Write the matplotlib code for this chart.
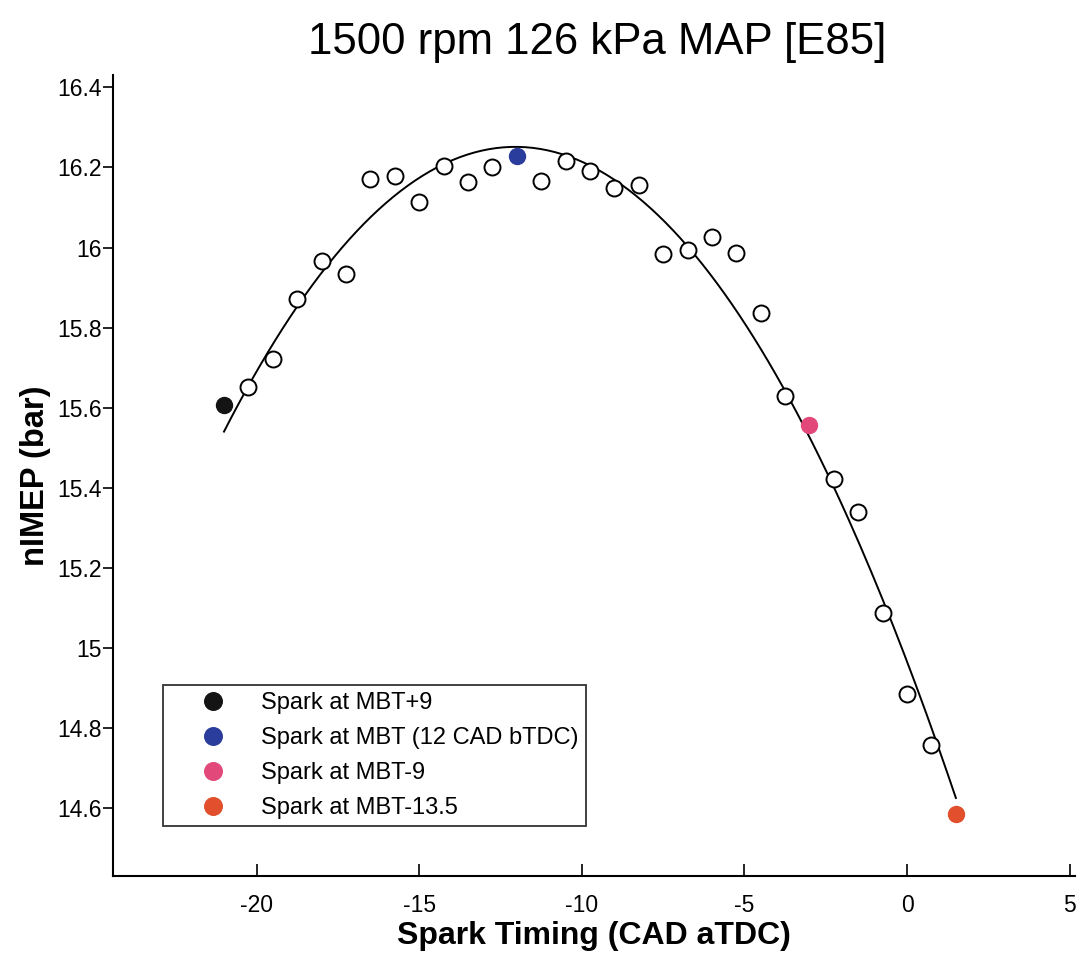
import matplotlib.pyplot as plt
import numpy as np

plt.rcParams['font.family'] = ['Liberation Sans', 'DejaVu Sans']

# spark timing (CAD aTDC) and net IMEP (bar), open circles
timing = [-20.25, -19.5, -18.75, -18.0, -17.25, -16.5, -15.75, -15.0, -14.25,
          -13.5, -12.75, -11.25, -10.5, -9.75, -9.0, -8.25, -7.5, -6.75, -6.0,
          -5.25, -4.5, -3.75, -2.25, -1.5, -0.75, 0.0, 0.75]
nimep = [15.652, 15.722, 15.871, 15.967, 15.934, 16.171, 16.179, 16.113, 16.204,
         16.164, 16.200, 16.166, 16.216, 16.191, 16.148, 16.156, 15.985, 15.994,
         16.027, 15.986, 15.836, 15.629, 15.421, 15.340, 15.087, 14.884, 14.757]

# highlighted points
hl_timing = [-21.0, -12.0, -3.0, 1.5]
hl_nimep = [15.606, 16.229, 15.556, 14.585]
hl_labels = ['Spark at MBT+9', 'Spark at MBT (12 CAD bTDC)',
             'Spark at MBT-9', 'Spark at MBT-13.5']
hl_colors = ['#141414', '#2b3d9c', '#e2487a', '#e24f2c']

# quadratic fit through all points
all_x = np.array(timing + hl_timing)
all_y = np.array(nimep + hl_nimep)
coef = np.polyfit(all_x, all_y, 2)
xfit = np.linspace(-21, 1.5, 200)
yfit = np.polyval(coef, xfit)

fig = plt.figure(figsize=(10.8, 9.55), dpi=100)
ax = fig.add_axes([0.105, 0.083, 0.89, 0.838])

ax.plot(xfit, yfit, color='black', lw=1.4)
ax.plot(timing, nimep, 'o', mfc='white', mec='black', ms=11.5, mew=1.4,
        linestyle='none')
for x, y, lab, c in zip(hl_timing, hl_nimep, hl_labels, hl_colors):
    ax.plot([x], [y], 'o', color=c, ms=11.5, label=lab, linestyle='none')

ax.set_xlim(-24.4, 5.15)
ax.set_ylim(14.43, 16.43)
ax.set_xticks([-20, -15, -10, -5, 0, 5])
ax.set_xticklabels(['-20', '-15', '-10', '-5', '0', '5'])
ax.set_yticks([14.6, 14.8, 15, 15.2, 15.4, 15.6, 15.8, 16, 16.2, 16.4])
ax.set_yticklabels(['14.6', '14.8', '15', '15.2', '15.4', '15.6', '15.8',
                    '16', '16.2', '16.4'])
ax.spines['top'].set_visible(False)
ax.spines['right'].set_visible(False)
ax.spines['left'].set_linewidth(1.5)
ax.spines['bottom'].set_linewidth(1.5)
ax.tick_params(axis='x', direction='in', length=9, width=1.2, labelsize=16.5, pad=13)
ax.tick_params(axis='y', direction='out', length=7, width=1.2, labelsize=16.5, pad=1.5)

ax.set_xlabel('Spark Timing (CAD aTDC)', fontsize=23, fontweight='bold')
ax.xaxis.set_label_coords(0.5, -0.057)
ax.set_ylabel('nIMEP (bar)', fontsize=23.5, fontweight='bold', labelpad=4)
fig.text(0.553, 0.955, '1500 rpm 126 kPa MAP [E85]', fontsize=31.5,
         ha='center', va='center')

leg = ax.legend(loc='lower left', bbox_to_anchor=(0.052, 0.062), fontsize=17,
                frameon=True, fancybox=False, handlelength=3.6, handletextpad=0.25,
                borderpad=0.3, labelspacing=0.55, borderaxespad=0, markerscale=1.1)
leg.get_frame().set_edgecolor('black')
leg.get_frame().set_linewidth(1.3)

fig.savefig('out.png', dpi=100)
